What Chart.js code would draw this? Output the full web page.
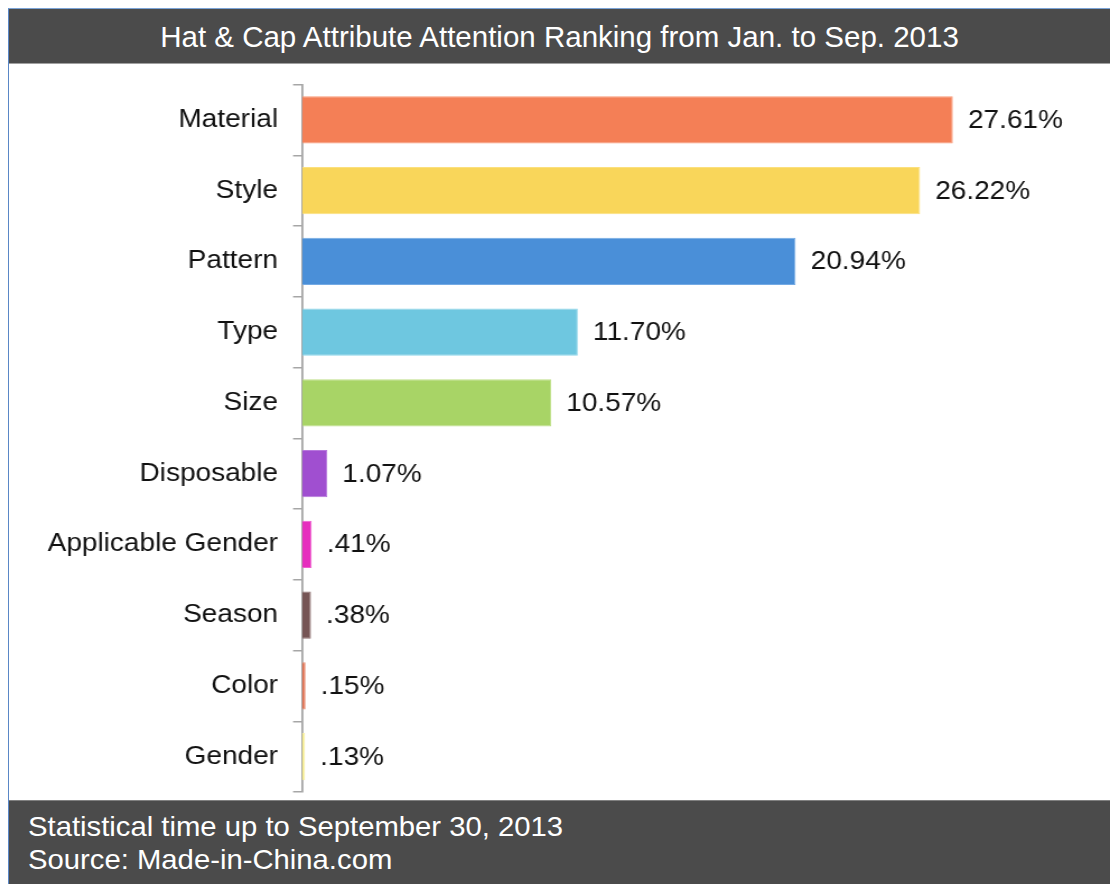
<!DOCTYPE html>
<html lang="en">
<head>
  <meta charset="UTF-8" />
  <title>Hat & Cap Attribute Attention Ranking</title>
  <script src="https://cdn.jsdelivr.net/npm/chart.js@4.4.0"></script>
  <style>
    body {
      margin: 0;
      background: white;
      font-family: 'Liberation Sans', Arial, sans-serif;
      width: 1110px;
      height: 884px;
      position: relative;
      overflow: hidden;
    }

    .frame {
      position: absolute;
      left: 8px;
      top: 8px;
      right: 0;
      bottom: 0;
      border-left: 1px solid #5a87c6;
      border-top: 1px solid #7aa3d6;
    }

    .header {
      position: absolute;
      left: 9px;
      top: 9px;
      right: 0;
      height: 54px;
      overflow: hidden;
      background: #4b4b4b;
      border-bottom: 1px solid #a0a0a0;
      color: white;
      font-size: 29.5px;
      line-height: 55px;
      text-align: center;
    }

    .footer {
      position: absolute;
      left: 9px;
      top: 800px;
      right: 0;
      bottom: 0;
      background: #4b4b4b;
      border-top: 1px solid #808080;
      color: white;
      font-size: 28px;
      line-height: 33px;
      padding: 9px 0 0 19px;
    }
    .footer div {
      transform: scaleX(1.045);
      transform-origin: left;
    }

    #hatChart {
      position: absolute;
      left: 9px;
      top: 65px;
      width: 1101px;
      height: 735px;
    }
  </style>
</head>
<body>
  <div class="frame"></div>
  <div class="header">Hat &amp; Cap Attribute Attention Ranking from Jan. to Sep. 2013</div>
  <!-- drawn narrow, then widened by CSS so the lettering comes out wide -->
  <canvas id="hatChart" width="983" height="735" style="width:1101px;height:735px"></canvas>
  <div class="footer"><div>Statistical time up to September 30, 2013<br />Source: Made-in-China.com</div></div>

  <script>
    const attributes = ['Material', 'Style', 'Pattern', 'Type', 'Size', 'Disposable',
      'Applicable Gender', 'Season', 'Color', 'Gender'];
    const shares = [27.61, 26.22, 20.94, 11.70, 10.57, 1.07, 0.41, 0.38, 0.15, 0.13];
    const shareLabels = ['27.61%', '26.22%', '20.94%', '11.70%', '10.57%', '1.07%',
      '.41%', '.38%', '.15%', '.13%'];
    const barColors = ['#f47f56', '#f9d65a', '#4a8fd8', '#6ec7e0', '#a8d466', '#a04fd0',
      '#e62fbe', '#765555', '#e0704f', '#f6ec8c'];
    const barEdges = ['#f99a78', '#fbe07e', '#74aae4', '#8fd6ea', '#bfe08a', '#b778dc',
      '#ee62cf', '#8e7070', '#e98f74', '#f8f0a8'];

    const FONT = '"Liberation Sans", Arial, sans-serif';

    // percentage text just past the end of each bar
    const valueLabels = {
      id: 'valueLabels',
      afterDatasetsDraw(chart) {
        const ctx = chart.ctx;
        const meta = chart.getDatasetMeta(0);
        ctx.save();
        ctx.font = '25px ' + FONT;
        ctx.fillStyle = '#111';
        ctx.textAlign = 'left';
        ctx.textBaseline = 'middle';
        meta.data.forEach((bar, i) => {
          ctx.fillText(shareLabels[i], bar.x + 13.5, bar.y + 1);
        });
        ctx.restore();
      }
    };

    new Chart(document.getElementById('hatChart'), {
      type: 'bar',
      data: {
        labels: attributes,
        datasets: [{
          data: shares,
          backgroundColor: barColors,
          borderColor: barEdges,
          borderWidth: 1,
          categoryPercentage: 1,
          barPercentage: 0.665
        }]
      },
      options: {
        indexAxis: 'y',
        responsive: false,
        animation: false,
        layout: { padding: { top: 19.5, bottom: 8, right: 90, left: 0 } },
        scales: {
          x: { display: false, min: 0, max: 30 },
          y: {
            afterFit(scale) {
              scale.width = 261.6;
              scale.paddingTop = 0;
              scale.paddingBottom = 0;
            },
            grid: {
              drawOnChartArea: false,
              tickLength: 8,
              color: '#a6a6a6',
              lineWidth: 1.5
            },
            border: { color: '#a6a6a6', width: 1.8 },
            ticks: {
              padding: 13.4,
              color: '#111',
              font: { family: FONT, size: 25 }
            }
          }
        },
        plugins: {
          legend: { display: false },
          tooltip: { enabled: false }
        }
      },
      plugins: [valueLabels]
    });
  </script>
</body>
</html>
